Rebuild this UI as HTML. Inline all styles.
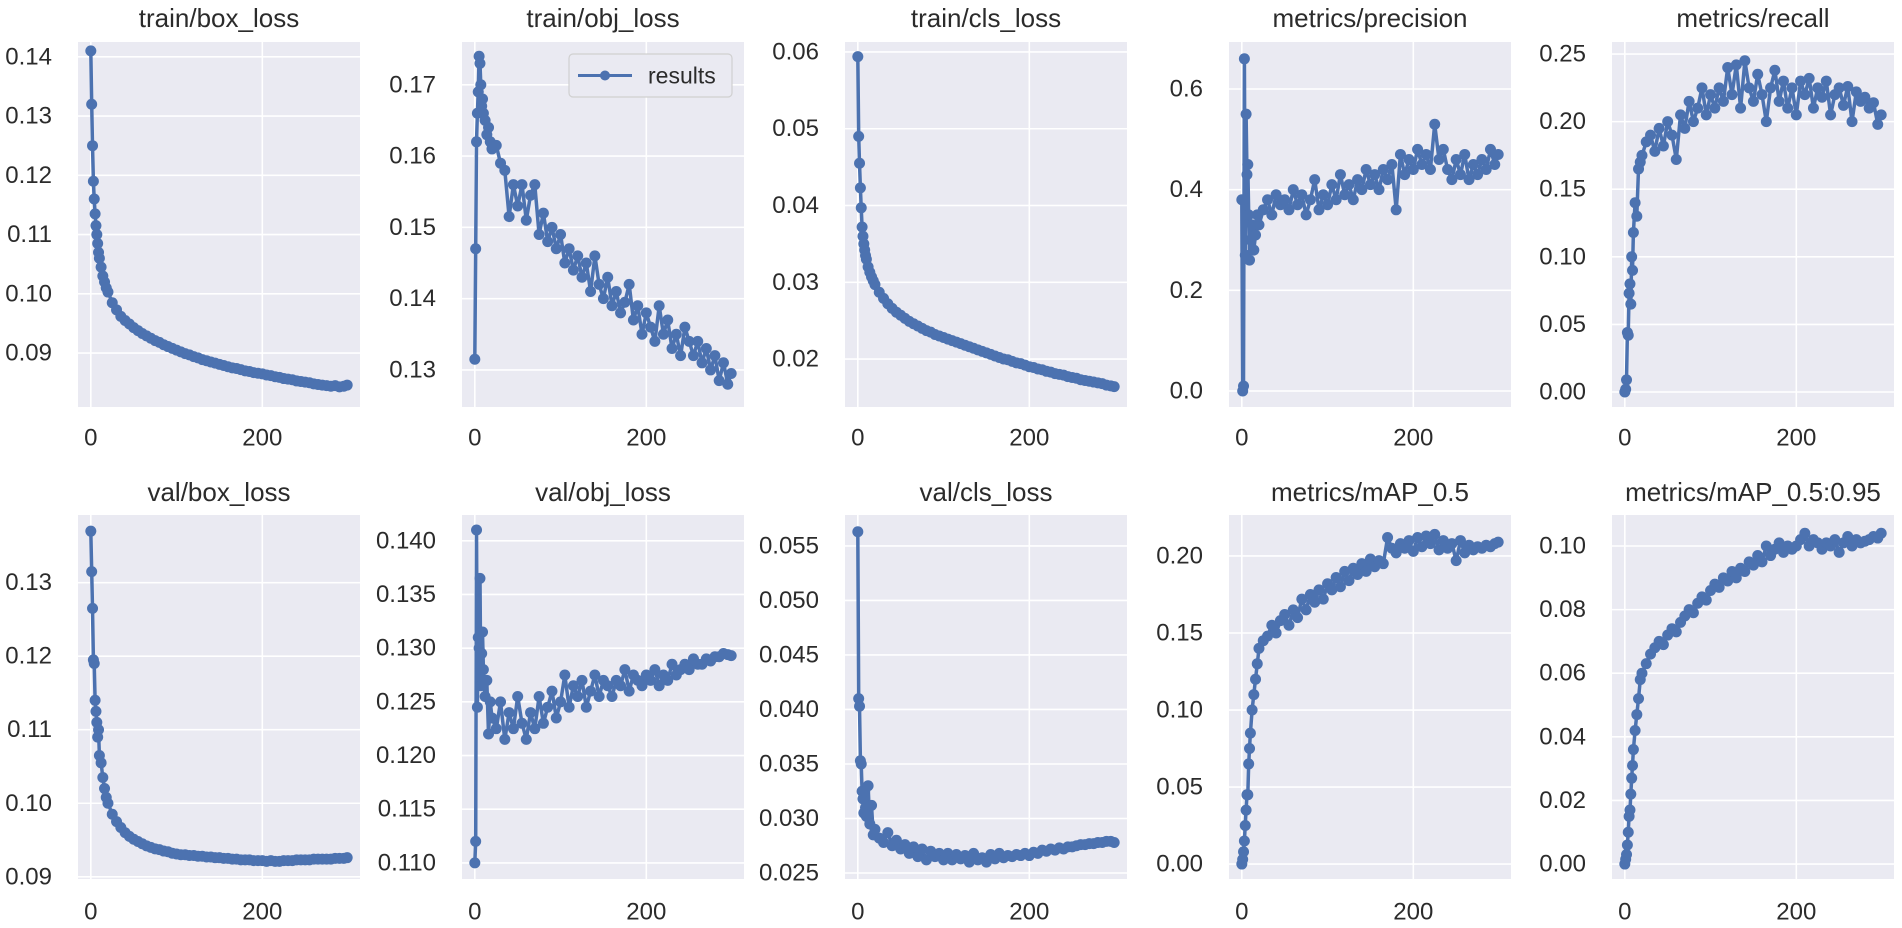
<!DOCTYPE html>
<html><head><meta charset="utf-8"><style>
html,body{margin:0;padding:0;background:#fff;}
svg{display:block;font-family:"Liberation Sans",Arial,sans-serif;}
</style></head>
<body>
<svg id="fig" width="1902" height="928" viewBox="0 0 1902 928" xmlns="http://www.w3.org/2000/svg"></svg>
<script>
const epochs = [0,1,2,3,4,5,6,7,8,9,10,12,14,16,18,20,25,30,35,40,45,50,55,60,65,70,75,80,85,90,95,100,105,110,115,120,125,130,135,140,145,150,155,160,165,170,175,180,185,190,195,200,205,210,215,220,225,230,235,240,245,250,255,260,265,270,275,280,285,290,295,299];
const xTicks = [0,200];

const trainBox = [0.141,0.132,0.125,0.119,0.116,0.1135,0.1115,0.110,0.1085,0.107,0.106,0.1045,0.103,0.102,0.101,0.1003,0.0985,0.0973,0.0962,0.0955,0.0949,0.0943,0.0938,0.0933,0.0929,0.0925,0.0921,0.0918,0.0914,0.0911,0.0908,0.0905,0.0902,0.0899,0.0897,0.0894,0.0892,0.0889,0.0887,0.0885,0.0883,0.0881,0.0879,0.0877,0.0875,0.0874,0.0872,0.0870,0.0869,0.0867,0.0866,0.0865,0.0863,0.0862,0.0860,0.0859,0.0857,0.0856,0.0855,0.0853,0.0852,0.0851,0.0850,0.0848,0.0847,0.0846,0.0845,0.0844,0.0845,0.0843,0.0844,0.0846];
const trainObj = [0.1315,0.147,0.162,0.166,0.169,0.174,0.173,0.170,0.167,0.168,0.166,0.165,0.163,0.164,0.162,0.161,0.1615,0.159,0.158,0.1515,0.156,0.153,0.156,0.151,0.1545,0.156,0.149,0.152,0.148,0.150,0.147,0.149,0.145,0.147,0.144,0.146,0.143,0.145,0.141,0.146,0.142,0.140,0.143,0.139,0.141,0.138,0.1395,0.142,0.137,0.139,0.135,0.138,0.136,0.134,0.139,0.135,0.137,0.133,0.135,0.132,0.136,0.134,0.132,0.134,0.131,0.133,0.130,0.132,0.1285,0.131,0.128,0.1295];
const trainCls = [0.0594,0.049,0.0455,0.0423,0.0397,0.0372,0.036,0.035,0.0342,0.0335,0.0330,0.0320,0.0313,0.0307,0.0302,0.0297,0.0287,0.0279,0.0272,0.0266,0.0261,0.0257,0.0253,0.0249,0.0246,0.0243,0.0240,0.0237,0.0235,0.0232,0.0230,0.0228,0.0226,0.0224,0.0222,0.0220,0.0218,0.0216,0.0214,0.0212,0.0210,0.0208,0.0206,0.0204,0.0202,0.0200,0.0199,0.0197,0.0195,0.0194,0.0192,0.0190,0.0189,0.0187,0.0186,0.0184,0.0183,0.0181,0.0180,0.0179,0.0177,0.0176,0.0175,0.0173,0.0172,0.0171,0.0170,0.0169,0.0168,0.0166,0.0165,0.0164];
const precision = [0.38,0.0,0.01,0.66,0.27,0.55,0.43,0.45,0.35,0.26,0.30,0.33,0.28,0.31,0.35,0.33,0.36,0.38,0.35,0.39,0.37,0.38,0.36,0.40,0.37,0.39,0.35,0.38,0.42,0.36,0.39,0.37,0.41,0.38,0.43,0.39,0.41,0.38,0.42,0.40,0.44,0.41,0.43,0.40,0.44,0.42,0.45,0.36,0.47,0.43,0.46,0.44,0.48,0.45,0.47,0.44,0.53,0.46,0.48,0.44,0.42,0.46,0.43,0.47,0.42,0.45,0.43,0.46,0.44,0.48,0.45,0.47];
const recall = [0.0,0.002,0.009,0.044,0.042,0.073,0.080,0.065,0.10,0.09,0.118,0.14,0.13,0.165,0.17,0.175,0.185,0.19,0.178,0.195,0.182,0.20,0.19,0.172,0.205,0.195,0.215,0.20,0.21,0.225,0.205,0.22,0.21,0.225,0.215,0.24,0.22,0.242,0.21,0.245,0.225,0.215,0.235,0.22,0.20,0.225,0.238,0.215,0.23,0.21,0.225,0.205,0.23,0.22,0.232,0.21,0.225,0.218,0.23,0.205,0.22,0.225,0.212,0.226,0.20,0.222,0.215,0.218,0.21,0.214,0.198,0.205];
const valBox = [0.137,0.1315,0.1265,0.1195,0.119,0.114,0.1125,0.111,0.109,0.110,0.1065,0.1055,0.1035,0.102,0.1008,0.1000,0.0985,0.0975,0.0967,0.0960,0.0955,0.0951,0.0948,0.0945,0.0942,0.0940,0.0938,0.0937,0.0935,0.0934,0.0932,0.0931,0.0930,0.0930,0.0929,0.0929,0.0928,0.0928,0.0927,0.0927,0.0926,0.0926,0.0925,0.0925,0.0924,0.0924,0.0923,0.0923,0.0923,0.0922,0.0922,0.0922,0.0921,0.0922,0.0921,0.0921,0.0922,0.0922,0.0922,0.0923,0.0923,0.0923,0.0923,0.0924,0.0924,0.0924,0.0924,0.0924,0.0925,0.0925,0.0925,0.0926];
const valObj = [0.110,0.112,0.141,0.1245,0.131,0.130,0.1365,0.1265,0.1295,0.1315,0.128,0.1255,0.127,0.122,0.125,0.1235,0.1225,0.125,0.1215,0.124,0.1225,0.1255,0.123,0.1215,0.124,0.1225,0.1255,0.123,0.1245,0.126,0.1235,0.125,0.1275,0.1245,0.1265,0.1255,0.127,0.1245,0.126,0.1275,0.1255,0.127,0.1265,0.1255,0.127,0.1265,0.128,0.126,0.1275,0.127,0.1265,0.1275,0.127,0.128,0.1265,0.1275,0.127,0.1285,0.1275,0.128,0.1285,0.128,0.129,0.1285,0.1285,0.129,0.1288,0.1292,0.1292,0.1295,0.1294,0.1293];
const valCls = [0.0563,0.041,0.0403,0.0353,0.035,0.0325,0.0318,0.0305,0.0325,0.031,0.0302,0.033,0.0295,0.0312,0.0285,0.029,0.0282,0.0278,0.0287,0.0275,0.028,0.0272,0.0276,0.0268,0.0274,0.0265,0.0272,0.0262,0.027,0.0265,0.0268,0.0262,0.0268,0.0262,0.0267,0.0263,0.0266,0.026,0.0268,0.0262,0.0264,0.026,0.0267,0.0263,0.0268,0.0264,0.0266,0.0265,0.0267,0.0266,0.0268,0.0266,0.0269,0.0268,0.0271,0.027,0.0272,0.0271,0.0273,0.0272,0.0274,0.0274,0.0275,0.0276,0.0276,0.0277,0.0277,0.0278,0.0278,0.0279,0.0279,0.0278];
const map50 = [0.0,0.003,0.008,0.015,0.025,0.035,0.045,0.045,0.065,0.075,0.085,0.10,0.11,0.12,0.13,0.14,0.145,0.148,0.155,0.15,0.158,0.162,0.155,0.165,0.16,0.172,0.165,0.175,0.17,0.178,0.172,0.182,0.178,0.186,0.18,0.19,0.184,0.192,0.188,0.195,0.19,0.198,0.193,0.197,0.195,0.212,0.205,0.202,0.208,0.205,0.21,0.203,0.212,0.206,0.213,0.208,0.214,0.204,0.21,0.205,0.208,0.197,0.21,0.202,0.207,0.204,0.206,0.205,0.207,0.206,0.208,0.209];
const map5095 = [0,0.0015,0.003,0.006,0.01,0.015,0.017,0.022,0.027,0.031,0.036,0.042,0.047,0.052,0.058,0.06,0.063,0.066,0.068,0.07,0.069,0.072,0.074,0.073,0.076,0.078,0.08,0.079,0.082,0.084,0.083,0.086,0.088,0.087,0.09,0.089,0.092,0.09,0.093,0.092,0.095,0.094,0.097,0.095,0.1,0.097,0.099,0.101,0.098,0.1,0.099,0.1,0.102,0.104,0.1,0.102,0.101,0.099,0.101,0.1,0.102,0.098,0.101,0.103,0.1,0.102,0.101,0.1015,0.102,0.103,0.1025,0.104];

const titles = ["train/box_loss","train/obj_loss","train/cls_loss","metrics/precision","metrics/recall","val/box_loss","val/obj_loss","val/cls_loss","metrics/mAP_0.5","metrics/mAP_0.5:0.95"];
const seriesList = [trainBox,trainObj,trainCls,precision,recall,valBox,valObj,valCls,map50,map5095];
const yTicks = [
  [0.09,0.10,0.11,0.12,0.13,0.14],
  [0.13,0.14,0.15,0.16,0.17],
  [0.02,0.03,0.04,0.05,0.06],
  [0.0,0.2,0.4,0.6],
  [0.00,0.05,0.10,0.15,0.20,0.25],
  [0.09,0.10,0.11,0.12,0.13],
  [0.110,0.115,0.120,0.125,0.130,0.135,0.140],
  [0.025,0.030,0.035,0.040,0.045,0.050,0.055],
  [0.00,0.05,0.10,0.15,0.20],
  [0.00,0.02,0.04,0.06,0.08,0.10]
];
const tickDecimals = [2,2,2,1,2,2,3,3,2,2];
const yDomains = [
  [0.0809,0.1425],[0.1248,0.1760],[0.01375,0.0613],[-0.0318,0.6934],[-0.0111,0.2589],
  [0.0897,0.1392],[0.1085,0.1424],[0.02445,0.05784],[-0.0097,0.2266],[-0.0047,0.10975]
];

const NS="http://www.w3.org/2000/svg";
const svg=document.getElementById('fig');
function mk(tag,attrs,parent){const e=document.createElementNS(NS,tag);for(const k in attrs)e.setAttribute(k,attrs[k]);(parent||svg).appendChild(e);return e;}

const lefts=[78,462,845,1229,1612];
const rows=[{top:42,bottom:407,title:18,xlab:438},{top:515,bottom:879,title:492,xlab:912}];
const W=282, XMIN=-14.95, XMAX=313.95;

seriesList.forEach((vals,i)=>{
  const r=rows[Math.floor(i/5)], L=lefts[i%5];
  const g=mk('g',{});
  
  
  const dom=yDomains[i];
  const sx=v=>L+(v-XMIN)/(XMAX-XMIN)*W;
  const sy=v=>r.bottom-(v-dom[0])/(dom[1]-dom[0])*(r.bottom-r.top);
  const bg=mk('rect',{x:L,y:r.top,width:W,height:r.bottom-r.top,fill:'#EAEAF2'},g);
  
  
  const t=mk('text',{x:L+W/2,y:r.title,'font-size':26,fill:'#2b2b2b','text-anchor':'middle','dominant-baseline':'central'},g);
  t.textContent=titles[i];
  
  
  yTicks[i].forEach(v=>{
    const y=sy(v);
    const gl=mk('line',{x1:L,x2:L+W,y1:y,y2:y,stroke:'#fff','stroke-width':1.6},g);
    
    
    const tl=mk('text',{x:L-26,y:y,'font-size':24,fill:'#2b2b2b','text-anchor':'end','dominant-baseline':'central'},g);
    tl.textContent=v.toFixed(tickDecimals[i]);
    
    
  });
  xTicks.forEach(v=>{
    const x=sx(v);
    const gl=mk('line',{x1:x,x2:x,y1:r.top,y2:r.bottom,stroke:'#fff','stroke-width':1.6},g);
    
    
    const tl=mk('text',{x:x,y:r.xlab,'font-size':24,fill:'#2b2b2b','text-anchor':'middle','dominant-baseline':'central'},g);
    tl.textContent=String(v);
    
    
  });
  const n=Math.min(vals.length,epochs.length);
  let d='';
  for(let k=0;k<n;k++){d+=(k?'L':'M')+sx(epochs[k]).toFixed(1)+' '+sy(vals[k]).toFixed(1);}
  const p=mk('path',{d:d,fill:'none',stroke:'#4C72B0','stroke-width':3.5,'stroke-linejoin':'round'},g);
  
  
  for(let k=0;k<n;k++){
    const c=mk('circle',{cx:sx(epochs[k]),cy:sy(vals[k]),r:5.5,fill:'#4C72B0'},g);
    
    
  }
});

// legend in train/obj_loss
const lg=mk('g',{});


mk('rect',{x:569,y:54,width:163,height:43,rx:4,fill:'#EAEAF2',stroke:'#D0D0D0','stroke-width':1.2},lg);
mk('line',{x1:578,x2:632,y1:75.5,y2:75.5,stroke:'#4C72B0','stroke-width':3},lg);
mk('circle',{cx:605,cy:75.5,r:5,fill:'#4C72B0'},lg);
const lt=mk('text',{x:648,y:75.5,'font-size':23,fill:'#2b2b2b','dominant-baseline':'central'},lg);
lt.textContent='results';


</script>
</body></html>
